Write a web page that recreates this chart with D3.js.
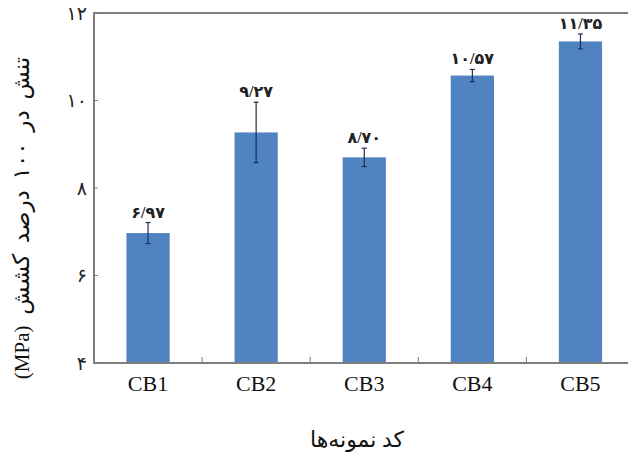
<!DOCTYPE html>
<html>
<head>
<meta charset="utf-8">
<script src="https://cdn.jsdelivr.net/npm/d3@7/dist/d3.min.js"></script>
<style>
  html, body { margin: 0; padding: 0; background: #fff; }
  svg { display: block; }
</style>
</head>
<body>
<svg id="chart" width="628" height="457"></svg>
<script>
const categories = ["CB1", "CB2", "CB3", "CB4", "CB5"];
const values = [6.97, 9.27, 8.70, 10.57, 11.35];
const errors = [0.24, 0.69, 0.21, 0.14, 0.17];
const valueLabels = ["۶/۹۷", "۹/۲۷", "۸/۷۰", "۱۰/۵۷", "۱۱/۳۵"];
const yTicks = [4, 6, 8, 10, 12];
const yTickLabels = ["۴", "۶", "۸", "۱۰", "۱۲"];
const yTitleFa = "تنش در ۱۰۰ درصد کشش ";
const yTitleUnit = "(MPa)";
const xTitle = "کد نمونه‌ها";

(function () {
const svg = d3.select("#chart");
const pLeft = 94, pTop = 13, pBottom = 363, step = 108.1;
const pRight = pLeft + step * categories.length;

const x = d3.scaleBand().domain(categories).range([pLeft, pRight])
  .paddingInner(0.6).paddingOuter(0.3);
const y = d3.scaleLinear().domain([4, 12]).range([pBottom, pTop]);

const serif = "'Liberation Serif', 'DejaVu Sans', serif";
const frameColor = "#7f7f7f";

// bars
svg.append("g").selectAll("rect").data(categories).join("rect")
  .attr("x", d => x(d))
  .attr("y", (d, i) => y(values[i]))
  .attr("width", x.bandwidth())
  .attr("height", (d, i) => y(4) - y(values[i]))
  .attr("fill", "#5083c2");

// error bars
const eg = svg.append("g").attr("stroke", "#1c3050").attr("stroke-width", 1.2);
categories.forEach((c, i) => {
  const cx = x(c) + x.bandwidth() / 2;
  const y1 = y(values[i] + errors[i]), y2 = y(values[i] - errors[i]);
  eg.append("line").attr("x1", cx).attr("x2", cx).attr("y1", y1).attr("y2", y2);
  eg.append("line").attr("x1", cx - 2.5).attr("x2", cx + 2.5).attr("y1", y1).attr("y2", y1);
  eg.append("line").attr("x1", cx - 2.5).attr("x2", cx + 2.5).attr("y1", y2).attr("y2", y2);
});

// value labels
svg.append("g").selectAll("text").data(categories).join("text")
  .attr("x", d => x(d) + x.bandwidth() / 2)
  .attr("y", (d, i) => y(values[i] + errors[i]) - 5)
  .attr("text-anchor", "middle")
  .attr("font-family", serif)
  .attr("font-size", 16)
  .attr("font-weight", "bold")
  .attr("fill", "#222")
  .text((d, i) => valueLabels[i]);

// frame: left axis, top line, bottom axis
svg.append("line").attr("x1", pLeft).attr("x2", pLeft).attr("y1", pTop).attr("y2", pBottom)
  .attr("stroke", frameColor).attr("stroke-width", 2);
svg.append("line").attr("x1", pLeft - 1).attr("x2", 628).attr("y1", pTop).attr("y2", pTop)
  .attr("stroke", frameColor).attr("stroke-width", 2);
svg.append("line").attr("x1", pLeft - 1).attr("x2", 628).attr("y1", pBottom).attr("y2", pBottom)
  .attr("stroke", frameColor).attr("stroke-width", 2);

// y ticks (inward) and labels
const yg = svg.append("g");
yTicks.forEach((t, i) => {
  yg.append("line").attr("x1", pLeft).attr("x2", pLeft + 4).attr("y1", y(t)).attr("y2", y(t))
    .attr("stroke", frameColor).attr("stroke-width", 1);
  yg.append("text").attr("x", pLeft - 7).attr("y", y(t)).attr("dy", "0.35em")
    .attr("text-anchor", "end").attr("font-family", serif).attr("font-size", 19)
    .attr("fill", "#222").text(yTickLabels[i]);
});

// x ticks at category boundaries (inward)
const xg = svg.append("g");
categories.slice(0, -1).forEach(c => {
  const bx = x(c) + x.bandwidth() / 2 + x.step() / 2;
  xg.append("line").attr("x1", bx).attr("x2", bx).attr("y1", pBottom).attr("y2", pBottom - 6)
    .attr("stroke", frameColor).attr("stroke-width", 1);
});
svg.append("g").selectAll("text").data(categories).join("text")
  .attr("x", d => x(d) + x.bandwidth() / 2)
  .attr("y", 391)
  .attr("text-anchor", "middle")
  .attr("font-family", serif)
  .attr("font-size", 22)
  .attr("fill", "#111")
  .text(d => d);

// axis titles
const yt = svg.append("text")
  .attr("transform", "translate(29,218) rotate(-90)")
  .attr("text-anchor", "middle")
  .attr("direction", "rtl")
  .attr("font-family", serif)
  .attr("fill", "#111");
yt.append("tspan").attr("font-size", 23).attr("word-spacing", 5).text(yTitleFa);
yt.append("tspan").attr("font-size", 21).text(yTitleUnit);

svg.append("text")
  .attr("x", (pLeft + 620) / 2)
  .attr("y", 447)
  .attr("text-anchor", "middle")
  .attr("direction", "rtl")
  .attr("font-family", serif)
  .attr("font-size", 22)
  .attr("fill", "#111")
  .text(xTitle);
})();
</script>
</body>
</html>
